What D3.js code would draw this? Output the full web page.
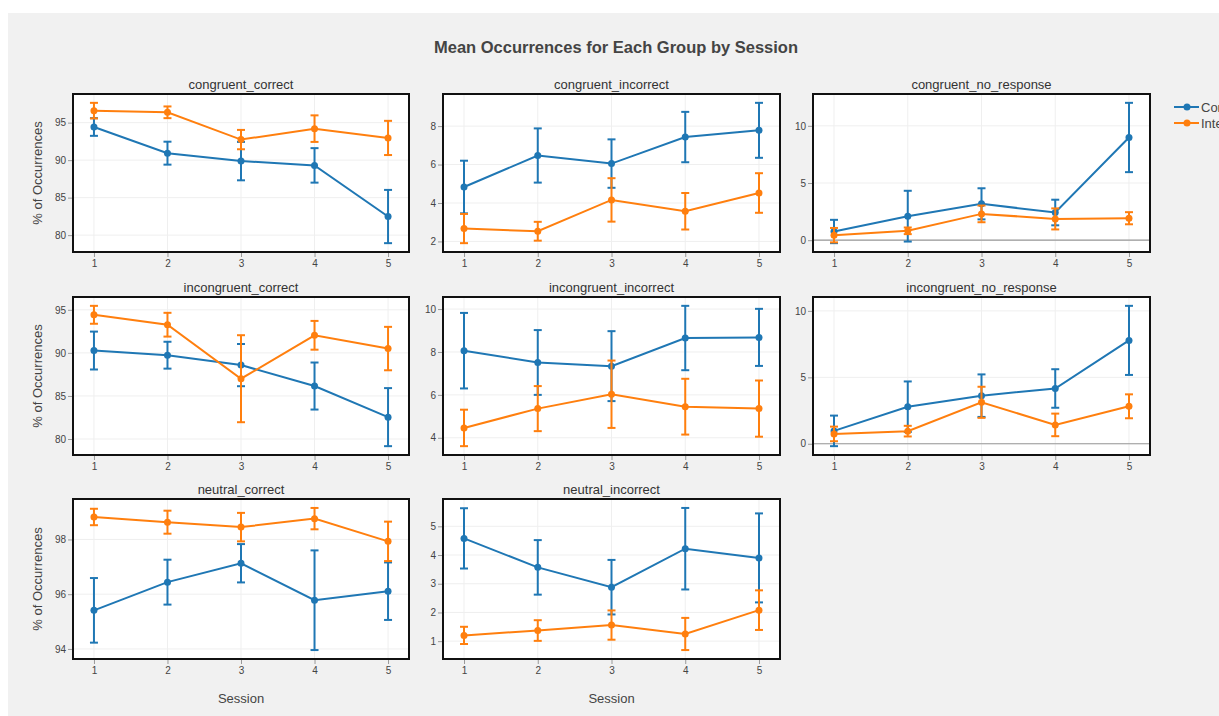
<!DOCTYPE html>
<html>
<head>
<meta charset="utf-8">
<script src="https://cdn.jsdelivr.net/npm/d3@7"></script>
<style>
  body { margin: 0; background: #fff; overflow: hidden; }
  text { font-family: "Liberation Sans", Arial, sans-serif; }
</style>
</head>
<body>
<script>
// data
var sessions = [1, 2, 3, 4, 5];
var groups = ["Control", "Intervention"];
var colors = ["#1f77b4", "#ff7f0e"];
var panelNames = ["congruent_correct", "congruent_incorrect", "congruent_no_response",
  "incongruent_correct", "incongruent_incorrect", "incongruent_no_response",
  "neutral_correct", "neutral_incorrect"];

var controlMean = [
  [94.42, 90.93, 89.87, 89.3, 82.48],
  [4.83, 6.47, 6.05, 7.43, 7.78],
  [0.76, 2.1, 3.18, 2.42, 8.98],
  [90.27, 89.73, 88.58, 86.15, 82.54],
  [8.06, 7.51, 7.34, 8.65, 8.68],
  [0.97, 2.79, 3.62, 4.16, 7.78],
  [95.41, 96.44, 97.13, 95.78, 96.11],
  [4.58, 3.57, 2.88, 4.22, 3.9]
];
var controlErr = [
  [1.18, 1.53, 2.56, 2.3, 3.55],
  [1.37, 1.41, 1.26, 1.31, 1.43],
  [1.02, 2.22, 1.36, 1.12, 3.03],
  [2.2, 1.56, 2.45, 2.73, 3.37],
  [1.76, 1.51, 1.63, 1.5, 1.33],
  [1.15, 1.9, 1.6, 1.45, 2.6],
  [1.18, 0.82, 0.7, 1.82, 1.05],
  [1.05, 0.95, 0.95, 1.42, 1.55]
];
var interventionMean = [
  [96.6, 96.38, 92.74, 94.2, 92.96],
  [2.67, 2.53, 4.16, 3.57, 4.52],
  [0.44, 0.82, 2.3, 1.86, 1.92],
  [94.42, 93.27, 87.0, 92.04, 90.5],
  [4.46, 5.36, 6.03, 5.45, 5.36],
  [0.74, 0.95, 3.12, 1.42, 2.82],
  [98.82, 98.63, 98.45, 98.76, 97.93],
  [1.2, 1.37, 1.56, 1.25, 2.08]
];
var interventionErr = [
  [1.04, 0.78, 1.29, 1.77, 2.28],
  [0.76, 0.49, 1.13, 0.95, 1.03],
  [0.63, 0.29, 0.73, 0.92, 0.53],
  [1.04, 1.38, 5.05, 1.67, 2.52],
  [0.85, 1.05, 1.57, 1.3, 1.31],
  [0.55, 0.4, 1.17, 0.85, 0.9],
  [0.3, 0.42, 0.52, 0.39, 0.72],
  [0.3, 0.36, 0.51, 0.56, 0.69]
];
var yTicks = [
  [80, 85, 90, 95],
  [2, 4, 6, 8],
  [0, 5, 10],
  [80, 85, 90, 95],
  [4, 6, 8, 10],
  [0, 5, 10],
  [94, 96, 98],
  [1, 2, 3, 4, 5]
];

var W = 1219, H = 716;
var colX = [[73, 409], [443, 780], [813, 1150]];
var rowY = [[94, 252], [297, 455], [499, 659]];

var svg = d3.select("body").append("svg")
  .attr("width", W)
  .attr("height", H);

svg.append("rect")
  .attr("x", 8).attr("y", 13)
  .attr("width", W - 8).attr("height", H - 13)
  .attr("fill", "#f1f1f1");

svg.append("text")
  .attr("x", 616).attr("y", 53)
  .attr("text-anchor", "middle")
  .attr("font-size", 16.5)
  .attr("font-weight", "bold")
  .attr("fill", "#444")
  .text("Mean Occurrences for Each Group by Session");

panelNames.forEach(function(name, p) {
  var col = p % 3, row = Math.floor(p / 3);
  var x0 = colX[col][0], x1 = colX[col][1];
  var y0 = rowY[row][0], y1 = rowY[row][1];

  var series = [
    { mean: controlMean[p], err: controlErr[p] },
    { mean: interventionMean[p], err: interventionErr[p] }
  ];
  var lo = d3.min(series, function(s) { return d3.min(s.mean, function(m, i) { return m - s.err[i]; }); });
  var hi = d3.max(series, function(s) { return d3.max(s.mean, function(m, i) { return m + s.err[i]; }); });
  var pad = (hi - lo) * 0.063;

  var x = d3.scaleLinear().domain([0.715, 5.285]).range([x0, x1]);
  var y = d3.scaleLinear().domain([lo - pad, hi + pad]).range([y1, y0]);

  var g = svg.append("g");

  g.append("rect")
    .attr("x", x0).attr("y", y0)
    .attr("width", x1 - x0).attr("height", y1 - y0)
    .attr("fill", "#fff");

  // grid
  g.selectAll(".gy").data(yTicks[p]).enter().append("line")
    .attr("x1", x0).attr("x2", x1)
    .attr("y1", function(d) { return y(d); })
    .attr("y2", function(d) { return y(d); })
    .attr("stroke", "#efefef");
  g.selectAll(".gx").data(sessions).enter().append("line")
    .attr("y1", y0).attr("y2", y1)
    .attr("x1", function(d) { return x(d); })
    .attr("x2", function(d) { return x(d); })
    .attr("stroke", "#efefef");

  if (y.domain()[0] < 0) {
    g.append("line")
      .attr("x1", x0).attr("x2", x1)
      .attr("y1", y(0)).attr("y2", y(0))
      .attr("stroke", "#999").attr("stroke-width", 1.2);
  }

  // axes
  var ax = g.append("g")
    .attr("transform", "translate(0," + y1 + ")")
    .call(d3.axisBottom(x).tickValues(sessions).tickSize(5).tickPadding(3).tickFormat(d3.format("d")));
  var ay = g.append("g")
    .attr("transform", "translate(" + x0 + ",0)")
    .call(d3.axisLeft(y).tickValues(yTicks[p]).tickSize(5).tickPadding(2).tickFormat(d3.format("d")));
  [ax, ay].forEach(function(a) {
    a.select(".domain").remove();
    a.selectAll("line").attr("stroke", "#999");
    a.selectAll("text").attr("fill", "#444").attr("font-size", 10)
      .attr("font-family", "Liberation Sans, Arial, sans-serif");
  });

  // series
  series.forEach(function(s, k) {
    var c = colors[k];
    var pts = sessions.map(function(d, i) { return { x: d, m: s.mean[i], e: s.err[i] }; });
    var sg = g.append("g");
    sg.append("path")
      .datum(pts)
      .attr("fill", "none")
      .attr("stroke", c)
      .attr("stroke-width", 2)
      .attr("d", d3.line().x(function(d) { return x(d.x); }).y(function(d) { return y(d.m); }));
    var eb = sg.selectAll(".eb").data(pts).enter().append("g");
    eb.append("line")
      .attr("x1", function(d) { return x(d.x); })
      .attr("x2", function(d) { return x(d.x); })
      .attr("y1", function(d) { return y(d.m - d.e); })
      .attr("y2", function(d) { return y(d.m + d.e); })
      .attr("stroke", c).attr("stroke-width", 2);
    [-1, 1].forEach(function(sign) {
      eb.append("line")
        .attr("x1", function(d) { return x(d.x) - 4; })
        .attr("x2", function(d) { return x(d.x) + 4; })
        .attr("y1", function(d) { return y(d.m + sign * d.e); })
        .attr("y2", function(d) { return y(d.m + sign * d.e); })
        .attr("stroke", c).attr("stroke-width", 2);
    });
    sg.selectAll("circle").data(pts).enter().append("circle")
      .attr("cx", function(d) { return x(d.x); })
      .attr("cy", function(d) { return y(d.m); })
      .attr("r", 3.5)
      .attr("fill", c);
  });

  g.append("rect")
    .attr("x", x0).attr("y", y0)
    .attr("width", x1 - x0).attr("height", y1 - y0)
    .attr("fill", "none")
    .attr("stroke", "#111")
    .attr("stroke-width", 2);

  g.append("text")
    .attr("x", (x0 + x1) / 2).attr("y", y0 - 5)
    .attr("text-anchor", "middle")
    .attr("font-size", 13)
    .attr("fill", "#333")
    .text(name);

  if (col === 0) {
    g.append("text")
      .attr("transform", "translate(42," + ((y0 + y1) / 2) + ") rotate(-90)")
      .attr("text-anchor", "middle")
      .attr("font-size", 13)
      .attr("fill", "#444")
      .text("% of Occurrences");
  }
  if (row === 2) {
    g.append("text")
      .attr("x", (x0 + x1) / 2).attr("y", 703)
      .attr("text-anchor", "middle")
      .attr("font-size", 13)
      .attr("fill", "#444")
      .text("Session");
  }
});

// legend
var leg = svg.append("g");
groups.forEach(function(name, k) {
  var ly = 107 + k * 16;
  leg.append("line")
    .attr("x1", 1174).attr("x2", 1199)
    .attr("y1", ly).attr("y2", ly)
    .attr("stroke", colors[k]).attr("stroke-width", 2);
  leg.append("circle")
    .attr("cx", 1187).attr("cy", ly).attr("r", 3.5)
    .attr("fill", colors[k]);
  leg.append("text")
    .attr("x", 1201).attr("y", ly + 4.5)
    .attr("font-size", 13)
    .attr("fill", "#444")
    .text(name);
});
</script>
</body>
</html>
